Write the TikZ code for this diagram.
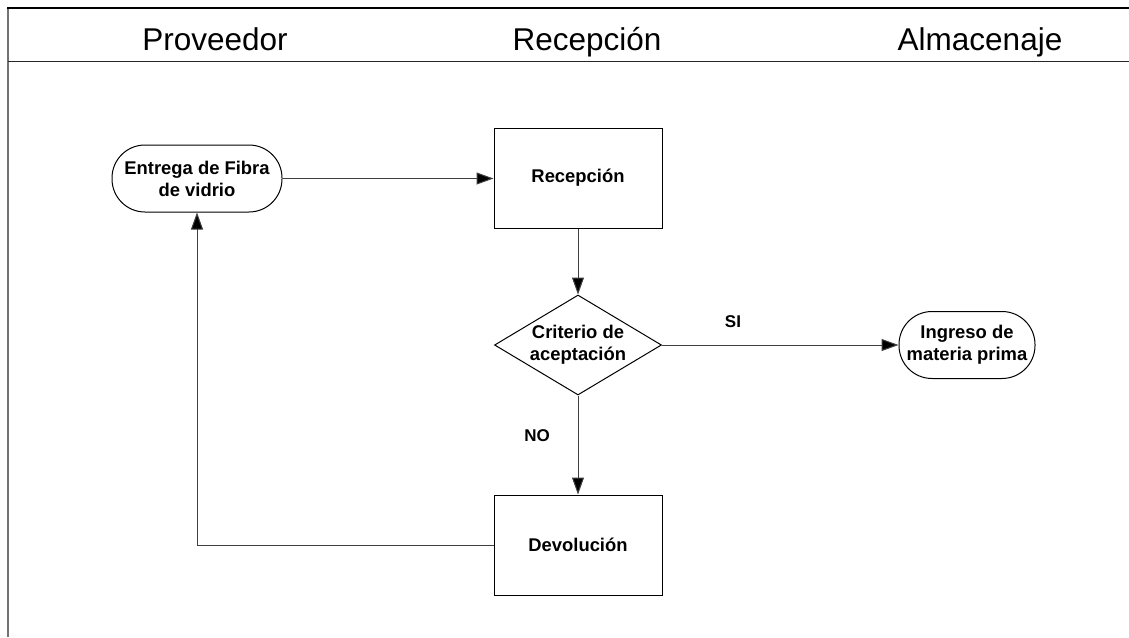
\documentclass[tikz,border=0pt]{standalone}
\usepackage{fontspec}
\setmainfont{Liberation Sans}
\usetikzlibrary{arrows.meta,shapes.geometric}
\begin{document}
\begin{tikzpicture}[x=1pt,y=-1pt,
  hdr/.style={font=\fontsize{31.5}{36}\selectfont, inner sep=0pt, anchor=base},
  txt/.style={font=\bfseries\fontsize{18.4}{22}\selectfont, align=center},
  proc/.style={txt, draw, line width=1pt, minimum width=168pt, minimum height=100pt, inner sep=0pt},
  term/.style={txt, draw, line width=1pt, rounded corners=33pt, minimum height=67pt, inner sep=0pt},
  dec/.style={txt, draw, line width=1pt, diamond, aspect=1.67, minimum width=167pt, minimum height=100pt, inner sep=0pt},
  conn/.style={line width=1pt, draw=black!75, -{Triangle[length=17pt,width=12pt,fill=black]}},
  lbl/.style={font=\bfseries\fontsize{17}{20}\selectfont, inner sep=0pt}
]
\useasboundingbox (0,0) rectangle (1129,637);
\fill[white] (0,0) rectangle (1129,637);
% frame
\draw[line width=2pt, black!55] (8,637) -- (8,7);
\draw[line width=1.3pt] (7,8) -- (1129,8);
\draw[line width=1pt, black!85] (8,61) -- (1129,61);
% headers
\node[hdr] (h1) at (215,50) {Proveedor};
\node[hdr] (h2) at (587,50) {Recepción};
\node[hdr] (h3) at (980,50) {Almacenaje};
% nodes
\node[term, minimum width=170pt] (ent) at (197,178.5) {Entrega de Fibra\\de vidrio};
\node[proc] (rec) at (578,178) {Recepción};
\node[dec] (crit) at (578,345) {Criterio de\\aceptación};
\node[proc] (dev) at (578,545) {Devolución};
\node[term, minimum width=136pt] (ing) at (967,345) {Ingreso de\\materia prima};
% connectors
\draw[conn] (ent.east) -- (rec.west |- ent.east);
\draw[conn] (rec.south) -- (crit.north);
\draw[conn] (crit.east) -- (ing.west);
\draw[conn] (crit.south) -- (dev.north);
\draw[conn] (dev.west) -| (ent.south);
% labels
\node[lbl] (si) at (733,322) {SI};
\node[lbl] (no) at (537,436) {NO};
\end{tikzpicture}
\end{document}
